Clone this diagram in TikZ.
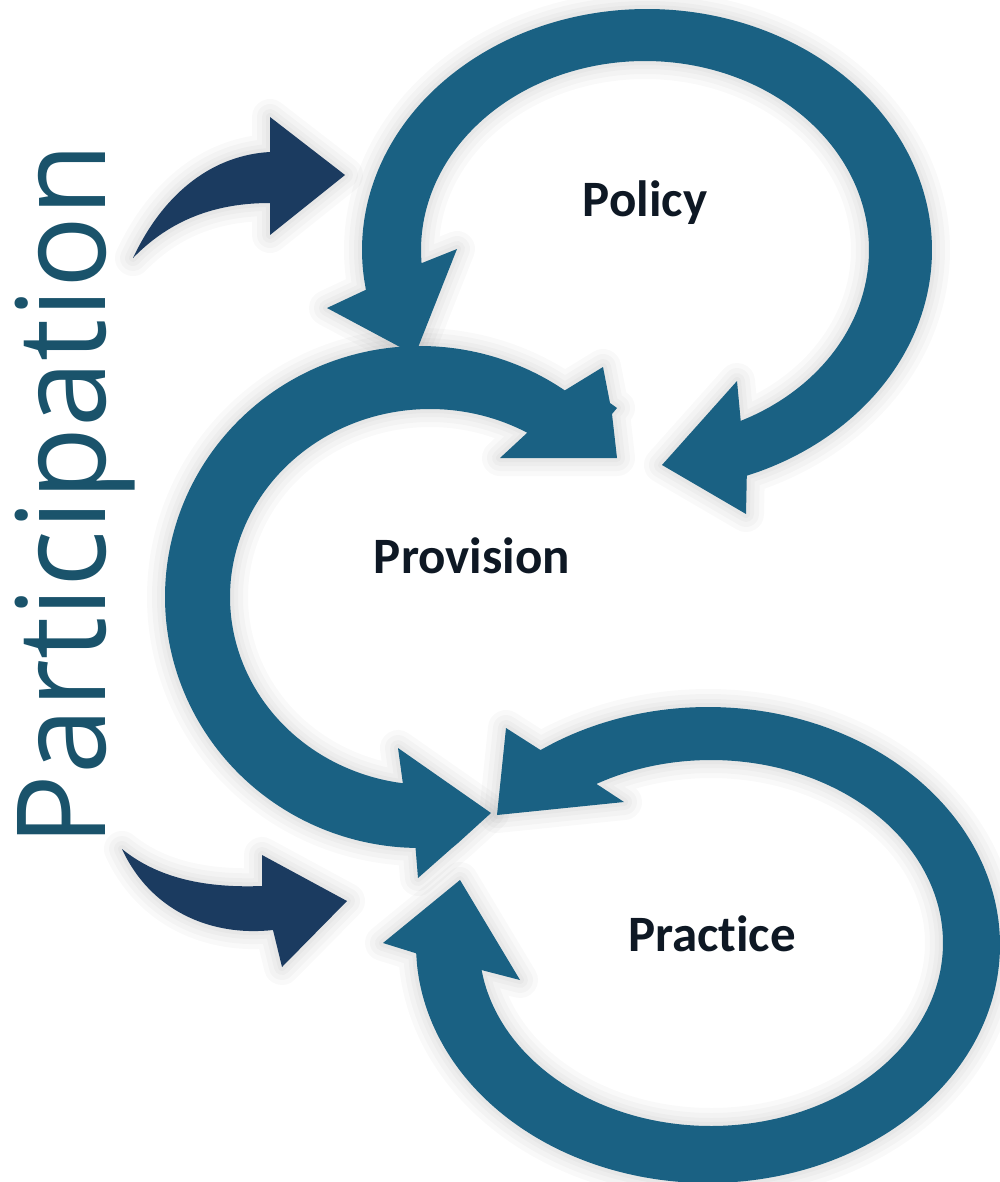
\documentclass[tikz,border=0pt]{standalone}
\usepackage{fontspec}
\newfontfamily\lblfont[Ligatures=NoCommon]{Carlito}
\newfontfamily\partfont{Open Sans}
\definecolor{tealc}{HTML}{1A6183}
\definecolor{navyc}{HTML}{1B3B60}
\definecolor{partc}{HTML}{1A536B}
\definecolor{lblc}{HTML}{0E1824}
\begin{document}
\begin{tikzpicture}[x=1pt,y=-1pt,
  band/.style={fill=tealc},
  navyarrow/.style={fill=navyc},
  glow/.style={draw=black, opacity=0.022, line join=round},
  lbl/.style={font=\lblfont\bfseries\fontsize{51}{60}\selectfont, text=lblc, anchor=base, inner sep=0pt}]
\useasboundingbox (0,0) rectangle (1000,1182);
\clip (0,0) rectangle (1000,1182);
\fill[white] (0,0) rectangle (1000,1182);

% shape outlines (saved for glow and fill)
\path[save path=\practicepath] plot[domain=235:538, samples=90, smooth] ({708+292*cos(\x)},{945+238*sin(\x)})
  -- (383,943) -- (460,880) -- (520,980)
  -- plot[domain=531.5:240.4, samples=90, smooth] ({711+232*cos(\x)},{943+183*sin(\x)})
  -- (624,802) -- (497,815) -- (506,728) -- cycle;
\path[save path=\policypath] plot[domain=170.5:429.5, samples=90, smooth] ({647+285*cos(\x)},{250+241*sin(\x)})
  -- (746,514) -- (662,465) -- (737,381)
  -- plot[domain=424.7:176, samples=90, smooth] ({645+224*cos(\x)},{250+189*sin(\x)})
  -- (457,249) -- (415,355) -- (327,308) -- cycle;
\path[save path=\provisionpath] plot[domain=-55.4:-269, samples=90, smooth] ({420+255*cos(\x)},{597+251*sin(\x)})
  -- (418,878) -- (452,848) -- (458,843) -- (491,813) -- (398,748)
  -- plot[domain=-262.2:-60.9, samples=90, smooth] ({430+200*cos(\x)},{597+188*sin(\x)})
  -- (500,458) -- (617,458) -- (612,414) -- (617,408) -- (610,403) -- (603,367) -- cycle;
\path[save path=\navytop] (133,258) .. controls (165,190) and (215,155) .. (270,152)
  -- (270,117) -- (345,175) -- (270,235) -- (270,203)
  .. controls (215,203) and (170,220) .. (133,258) -- cycle;
\path[save path=\navybottom] (122,849) .. controls (160,880) and (210,888) .. (262,886)
  -- (262,855) -- (347,901) -- (282,967) -- (273,930)
  .. controls (210,937) and (150,910) .. (122,849) -- cycle;

% soft glow
\foreach \w in {36,26,16,8}{
  \draw[glow, line width=\w pt, use path=\practicepath];
  \draw[glow, line width=\w pt, use path=\policypath];
  \draw[glow, line width=\w pt, use path=\provisionpath];
  \draw[glow, line width=\w pt, use path=\navytop];
  \draw[glow, line width=\w pt, use path=\navybottom];
}

% fills
\fill[band, use path=\practicepath];
\fill[band, use path=\policypath];
\fill[band, use path=\provisionpath];
\fill[navyarrow, use path=\navytop];
\fill[navyarrow, use path=\navybottom];

% Labels
\node[lbl] (policy) at (645,217) {Policy};
\node[lbl] (provision) at (472,573) {Provision};
\node[lbl] (practice) at (712,951) {Practice};
\node[rotate=90, text=partc, inner sep=0pt] (participation) at (75,495)
  {\resizebox*{703pt}{120pt}{\partfont Participation}};
\end{tikzpicture}
\end{document}
